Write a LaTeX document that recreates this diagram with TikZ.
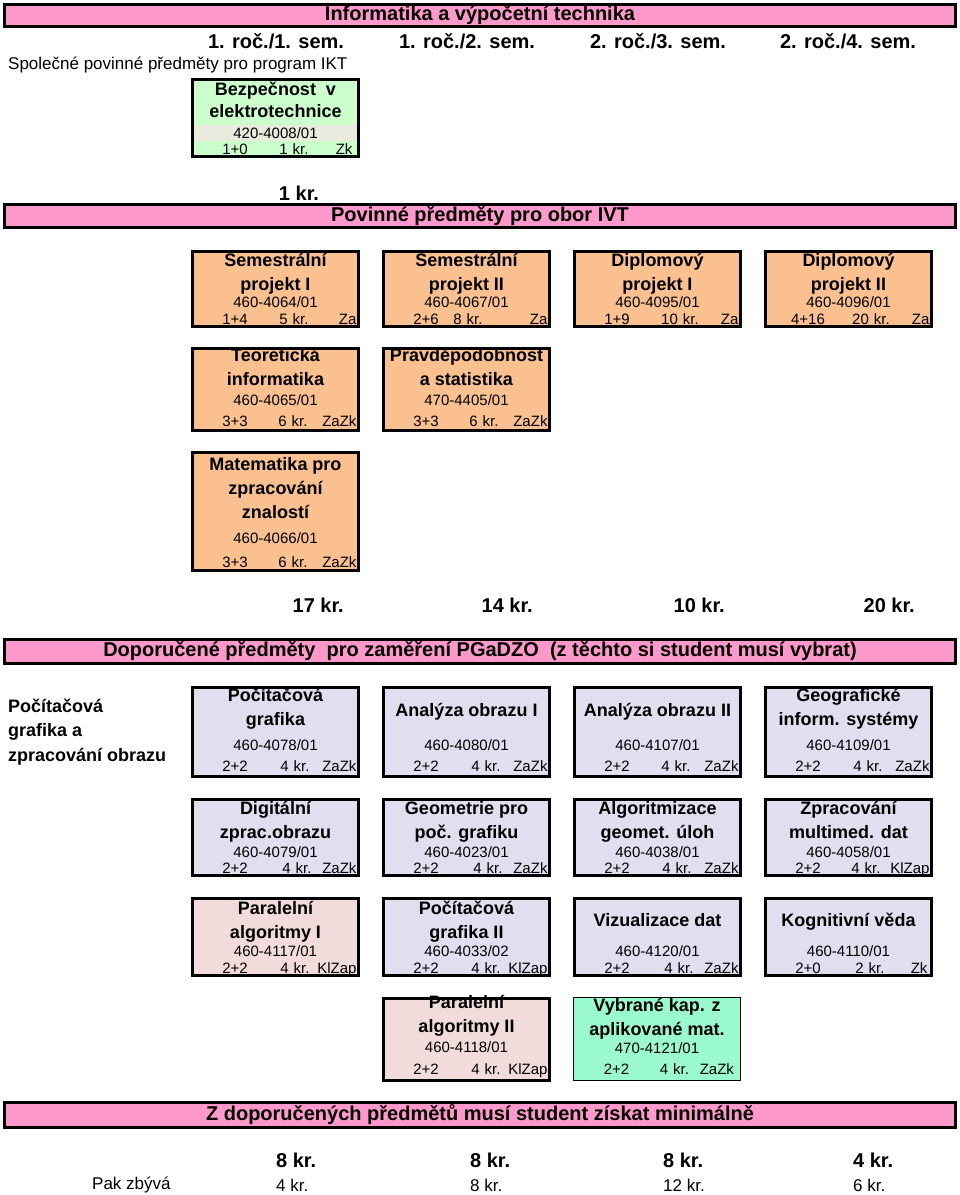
\documentclass[tikz,border=0pt]{standalone}
\usepackage{fontspec}
\setmainfont{Liberation Sans}
\definecolor{bannerpink}{RGB}{255,153,204}
\definecolor{courseorange}{RGB}{250,192,144}
\definecolor{coursegreen}{RGB}{204,255,204}
\definecolor{codegray}{RGB}{234,234,222}
\definecolor{courselav}{RGB}{224,223,240}
\definecolor{coursepink}{RGB}{242,220,219}
\definecolor{coursemint}{RGB}{155,250,205}

\begin{document}
\begin{tikzpicture}[x=1pt, y=-1pt,
    banner/.style={draw=black, line width=3pt, fill=bannerpink, minimum width=951pt, inner sep=0pt, font=\bfseries\fontsize{20}{24}\selectfont},
    course/.style={draw=black, line width=3pt, minimum width=166pt, inner sep=0pt},
    ctitle/.style={align=center, inner sep=0pt, yshift=-1.7pt, execute at begin node=\strut, execute at end node=\strut, font=\bfseries\fontsize{18}{24}\selectfont},
    ccode/.style={inner sep=0pt, font=\fontsize{15}{18}\selectfont},
    ccredit/.style={text width=162pt, align=left, inner sep=0pt, yshift=-1.8pt, execute at begin node=\strut, font=\fontsize{15}{18}\selectfont},
    heading/.style={inner sep=0pt, font=\bfseries\fontsize{20}{24}\selectfont},
    plaintext/.style={inner sep=0pt, font=\fontsize{17}{20}\selectfont}]
    \useasboundingbox (0,0) rectangle (960,1195);

    %Headers
    \node[banner, minimum height=22pt] (bnTop) at (480,15.5) {Informatika a výpočetní technika};
    \node[heading] (sem1) at (276,41) {1. roč./1. sem.};
    \node[heading] (sem2) at (467,41) {1. roč./2. sem.};
    \node[heading] (sem3) at (658,41) {2. roč./3. sem.};
    \node[heading] (sem4) at (848,41) {2. roč./4. sem.};
    \node[plaintext, anchor=west] (ikt) at (8,65) {Společné povinné předměty pro program IKT};

    %Common course
    \node[course, fill=coursegreen, minimum height=77pt] (bez) at (275.5,118) {};
    \fill[codegray] (194,125) rectangle (357,141);
    \node[ctitle, font=\bfseries\fontsize{18}{22}\selectfont] (bezT) at (275.5,101) {Bezpečnost\ \ v\\elektrotechnice};
    \node[ccode] (bezC) at (275.5,133) {420-4008/01};
    \node[ccredit] (bezK) at (275.5,149) {\hspace*{40.5pt}\makebox[0pt]{1+0}\hspace*{59pt}\makebox[0pt]{1 kr.}\hfill Zk\kern4pt};
    \node[heading] (bezSum) at (299,193) {1 kr.};

    %Compulsory courses
    \node[banner, minimum height=23pt] (bnPov) at (480,216) {Povinné předměty pro obor IVT};

    \node[course, fill=courseorange, minimum height=75pt] (sp1) at (275.5,289) {};
    \node[ctitle] (sp1T) at (275.5,274) {Semestrální\\projekt I};
    \node[ccode] (sp1C) at (275.5,302) {460-4064/01};
    \node[ccredit] (sp1K) at (275.5,319) {\hspace*{40.5pt}\makebox[0pt]{1+4}\hspace*{59pt}\makebox[0pt]{5 kr.}\hfill Za};

    \node[course, fill=courseorange, minimum height=75pt] (sp2) at (466.5,289) {};
    \node[ctitle] (sp2T) at (466.5,274) {Semestrální\\projekt II};
    \node[ccode] (sp2C) at (466.5,302) {460-4067/01};
    \node[ccredit] (sp2K) at (466.5,319) {\hspace*{40.5pt}\makebox[0pt]{2+6}\hspace*{42pt}\makebox[0pt]{8 kr.}\hfill Za};

    \node[course, fill=courseorange, minimum height=75pt] (dp1) at (657.5,289) {};
    \node[ctitle] (dp1T) at (657.5,274) {Diplomový\\projekt I};
    \node[ccode] (dp1C) at (657.5,302) {460-4095/01};
    \node[ccredit] (dp1K) at (657.5,319) {\hspace*{40.5pt}\makebox[0pt]{1+9}\hspace*{63pt}\makebox[0pt]{10 kr.}\hfill Za};

    \node[course, fill=courseorange, minimum height=75pt] (dp2) at (848.5,289) {};
    \node[ctitle] (dp2T) at (848.5,274) {Diplomový\\projekt II};
    \node[ccode] (dp2C) at (848.5,302) {460-4096/01};
    \node[ccredit] (dp2K) at (848.5,319) {\hspace*{40.5pt}\makebox[0pt]{4+16}\hspace*{63pt}\makebox[0pt]{20 kr.}\hfill Za};

    \node[course, fill=courseorange, minimum height=82pt] (ti) at (275.5,389.5) {};
    \node[ctitle] (tiT) at (275.5,369) {Teoretická\\informatika};
    \node[ccode] (tiC) at (275.5,400) {460-4065/01};
    \node[ccredit] (tiK) at (275.5,421) {\hspace*{40.5pt}\makebox[0pt]{3+3}\hspace*{58pt}\makebox[0pt]{6 kr.}\hfill ZaZk};

    \node[course, fill=courseorange, minimum height=82pt] (ps) at (466.5,389.5) {};
    \node[ctitle] (psT) at (466.5,369) {Pravděpodobnost\\a statistika};
    \node[ccode] (psC) at (466.5,400) {470-4405/01};
    \node[ccredit] (psK) at (466.5,421) {\hspace*{40.5pt}\makebox[0pt]{3+3}\hspace*{58pt}\makebox[0pt]{6 kr.}\hfill ZaZk};

    \node[course, fill=courseorange, minimum height=118pt] (mz) at (275.5,511.5) {};
    \node[ctitle] (mzT) at (275.5,490) {Matematika pro\\zpracování\\znalostí};
    \node[ccode] (mzC) at (275.5,538) {460-4066/01};
    \node[ccredit] (mzK) at (275.5,562) {\hspace*{40.5pt}\makebox[0pt]{3+3}\hspace*{58pt}\makebox[0pt]{6 kr.}\hfill ZaZk};

    %Credit sums
    \node[heading, anchor=east] (sum1) at (344,605) {17 kr.};
    \node[heading, anchor=east] (sum2) at (533,605) {14 kr.};
    \node[heading, anchor=east] (sum3) at (725,605) {10 kr.};
    \node[heading, anchor=east] (sum4) at (915,605) {20 kr.};

    %Recommended courses
    \node[banner, minimum height=24pt] (bnDop) at (480,651.5) {Doporučené předměty\ \ pro zaměření PGaDZO\ \ (z těchto si student musí vybrat)};
    \node[ctitle, align=left, anchor=west, font=\bfseries\fontsize{18}{24.5}\selectfont] (pgzo) at (8,732) {Počítačová\\grafika a\\zpracování obrazu};

    \node[course, fill=courselav, minimum height=89pt] (pg) at (275.5,732) {};
    \node[ctitle] (pgT) at (275.5,709) {Počítačová\\grafika};
    \node[ccode] (pgC) at (275.5,745) {460-4078/01};
    \node[ccredit] (pgK) at (275.5,766) {\hspace*{40.5pt}\makebox[0pt]{2+2}\hspace*{60pt}\makebox[0pt]{4 kr.}\hfill ZaZk};

    \node[course, fill=courselav, minimum height=89pt] (ao1) at (466.5,732) {};
    \node[ctitle] (ao1T) at (466.5,710) {Analýza obrazu I};
    \node[ccode] (ao1C) at (466.5,745) {460-4080/01};
    \node[ccredit] (ao1K) at (466.5,766) {\hspace*{40.5pt}\makebox[0pt]{2+2}\hspace*{60pt}\makebox[0pt]{4 kr.}\hfill ZaZk};

    \node[course, fill=courselav, minimum height=89pt] (ao2) at (657.5,732) {};
    \node[ctitle] (ao2T) at (657.5,710) {Analýza obrazu II};
    \node[ccode] (ao2C) at (657.5,745) {460-4107/01};
    \node[ccredit] (ao2K) at (657.5,766) {\hspace*{40.5pt}\makebox[0pt]{2+2}\hspace*{59pt}\makebox[0pt]{4 kr.}\hfill ZaZk};

    \node[course, fill=courselav, minimum height=89pt] (gis) at (848.5,732) {};
    \node[ctitle] (gisT) at (848.5,709) {Geografické\\inform. systémy};
    \node[ccode] (gisC) at (848.5,745) {460-4109/01};
    \node[ccredit] (gisK) at (848.5,766) {\hspace*{40.5pt}\makebox[0pt]{2+2}\hspace*{60pt}\makebox[0pt]{4 kr.}\hfill ZaZk};

    \node[course, fill=courselav, minimum height=76pt] (dzo) at (275.5,837.5) {};
    \node[ctitle] (dzoT) at (275.5,822) {Digitální\\zprac.obrazu};
    \node[ccode] (dzoC) at (275.5,852) {460-4079/01};
    \node[ccredit] (dzoK) at (275.5,868) {\hspace*{40.5pt}\makebox[0pt]{2+2}\hspace*{62pt}\makebox[0pt]{4 kr.}\hfill ZaZk};

    \node[course, fill=courselav, minimum height=76pt] (gpg) at (466.5,837.5) {};
    \node[ctitle] (gpgT) at (466.5,822) {Geometrie pro\\poč. grafiku};
    \node[ccode] (gpgC) at (466.5,852) {460-4023/01};
    \node[ccredit] (gpgK) at (466.5,868) {\hspace*{40.5pt}\makebox[0pt]{2+2}\hspace*{62pt}\makebox[0pt]{4 kr.}\hfill ZaZk};

    \node[course, fill=courselav, minimum height=76pt] (agu) at (657.5,837.5) {};
    \node[ctitle] (aguT) at (657.5,822) {Algoritmizace\\geomet. úloh};
    \node[ccode] (aguC) at (657.5,852) {460-4038/01};
    \node[ccredit] (aguK) at (657.5,868) {\hspace*{40.5pt}\makebox[0pt]{2+2}\hspace*{60pt}\makebox[0pt]{4 kr.}\hfill ZaZk};

    \node[course, fill=courselav, minimum height=76pt] (zmd) at (848.5,837.5) {};
    \node[ctitle] (zmdT) at (848.5,822) {Zpracování\\multimed. dat};
    \node[ccode] (zmdC) at (848.5,852) {460-4058/01};
    \node[ccredit] (zmdK) at (848.5,868) {\hspace*{40.5pt}\makebox[0pt]{2+2}\hspace*{58pt}\makebox[0pt]{4 kr.}\hfill KlZap};

    \node[course, fill=coursepink, minimum height=77pt] (pa1) at (275.5,937) {};
    \node[ctitle] (pa1T) at (275.5,922) {Paralelní\\algoritmy I};
    \node[ccode] (pa1C) at (275.5,951) {460-4117/01};
    \node[ccredit] (pa1K) at (275.5,968) {\hspace*{40.5pt}\makebox[0pt]{2+2}\hspace*{60pt}\makebox[0pt]{4 kr.}\hfill KlZap};

    \node[course, fill=courselav, minimum height=77pt] (pg2) at (466.5,937) {};
    \node[ctitle] (pg2T) at (466.5,922) {Počítačová\\grafika II};
    \node[ccode] (pg2C) at (466.5,951) {460-4033/02};
    \node[ccredit] (pg2K) at (466.5,968) {\hspace*{40.5pt}\makebox[0pt]{2+2}\hspace*{60pt}\makebox[0pt]{4 kr.}\hfill KlZap};

    \node[course, fill=courselav, minimum height=77pt] (viz) at (657.5,937) {};
    \node[ctitle] (vizT) at (657.5,920) {Vizualizace dat};
    \node[ccode] (vizC) at (657.5,951) {460-4120/01};
    \node[ccredit] (vizK) at (657.5,968) {\hspace*{40.5pt}\makebox[0pt]{2+2}\hspace*{62pt}\makebox[0pt]{4 kr.}\hfill ZaZk};

    \node[course, fill=courselav, minimum height=77pt] (kv) at (848.5,937) {};
    \node[ctitle] (kvT) at (848.5,920) {Kognitivní věda};
    \node[ccode] (kvC) at (848.5,951) {460-4110/01};
    \node[ccredit] (kvK) at (848.5,968) {\hspace*{40.5pt}\makebox[0pt]{2+0}\hspace*{62pt}\makebox[0pt]{2 kr.}\hfill Zk\kern2pt};

    \node[course, fill=coursepink, minimum height=82pt] (pa2) at (466.5,1039.5) {};
    \node[ctitle] (pa2T) at (466.5,1016) {Paralelní\\algoritmy II};
    \node[ccode] (pa2C) at (466.5,1047) {460-4118/01};
    \node[ccredit] (pa2K) at (466.5,1069) {\hspace*{40.5pt}\makebox[0pt]{2+2}\hspace*{60pt}\makebox[0pt]{4 kr.}\hfill KlZap};

    \node[course, line width=1.5pt, fill=coursemint, minimum width=167pt, minimum height=83pt] (vka) at (657,1039) {};
    \node[ctitle] (vkaT) at (657,1019) {Vybrané kap. z\\aplikované mat.};
    \node[ccode] (vkaC) at (657,1048) {470-4121/01};
    \node[ccredit] (vkaK) at (657,1069) {\hspace*{40.5pt}\makebox[0pt]{2+2}\hspace*{58pt}\makebox[0pt]{4 kr.}\hfill ZaZk\kern4pt};

    %Minimum credits
    \node[banner, minimum height=25pt] (bnMin) at (480,1115) {Z doporučených předmětů musí student získat minimálně};
    \node[heading, anchor=west] (min1) at (276,1160) {8 kr.};
    \node[heading, anchor=west] (min2) at (470,1160) {8 kr.};
    \node[heading, anchor=west] (min3) at (663,1160) {8 kr.};
    \node[heading, anchor=west] (min4) at (853,1160) {4 kr.};
    \node[plaintext, anchor=west] (rest) at (92,1185) {Pak zbývá};
    \node[plaintext, anchor=west] (rest1) at (276,1185) {4 kr.};
    \node[plaintext, anchor=west] (rest2) at (470,1185) {8 kr.};
    \node[plaintext, anchor=west] (rest3) at (663,1185) {12 kr.};
    \node[plaintext, anchor=west] (rest4) at (853,1185) {6 kr.};
\end{tikzpicture}
\end{document}
